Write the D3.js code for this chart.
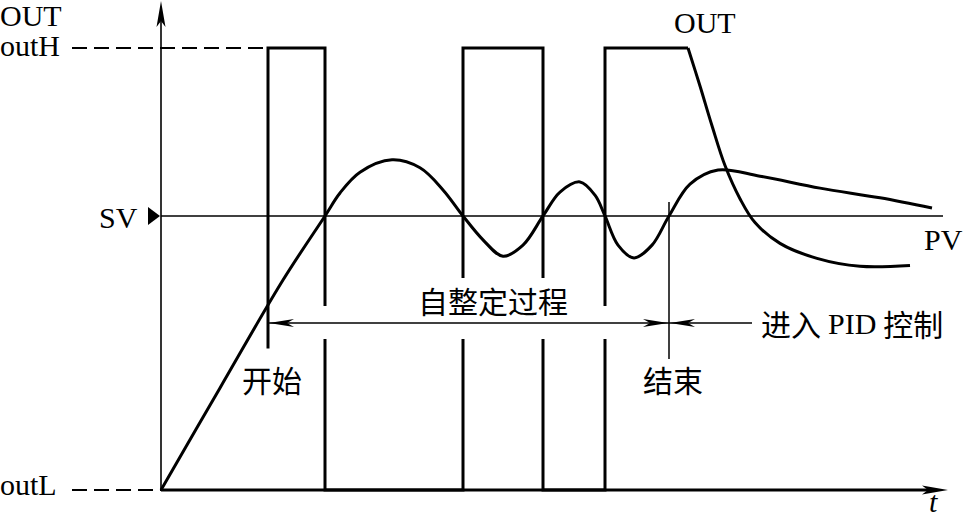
<!DOCTYPE html>
<html>
<head>
<meta charset="utf-8">
<script src="https://cdn.jsdelivr.net/npm/d3@7/dist/d3.min.js"></script>
<style>
  html, body { margin: 0; padding: 0; background: #fff; }
  svg { display: block; }
  .lat { font-family: "Liberation Serif", "DejaVu Serif", serif; font-size: 30px; fill: #000; }
  .cjk { font-family: "Noto Sans CJK SC", sans-serif; font-size: 30px; fill: #000; }
</style>
</head>
<body>
<svg id="chart" width="965" height="520"></svg>
<script>
// ---- data (time t in arbitrary units, output/PV value in % of outH) ----
const levelNames  = ["outH", "SV", "outL"];
const levelValues = [100, 62, 0];

// relay output during auto-tuning (step part)
const outStepT = [10.7, 10.7, 16.4, 16.4, 30.2, 30.2, 38.2, 38.2, 44.4, 44.4, 52.7];
const outStepV = [32,   100,  100,  0,    0,    100,  100,  0,    0,    100,  100];
// output under PID control (decay part)
const outPidT = [52.7, 53.9, 55.1, 56.4, 57.9, 59.4, 61.9, 65.6, 69.9, 74.9];
const outPidV = [100,  91.4, 82.4, 73.4, 65.9, 60.5, 55.8, 52.4, 50.6, 50.8];

// process value
const pvT = [0, 5.9, 12.2, 16.4, 17.9, 19.9, 23.1, 25.9, 28.2, 30.2, 32.2, 34.2, 36.2, 38.2,
             39.9, 41.9, 43.4, 44.4, 45.7, 47.3, 49.1, 50.8, 52.9, 55.7, 59.9, 65.9, 71.9, 77.1];
const pvV = [0, 23.1, 47.5, 62, 67.2, 71.9, 74.7, 72.9, 67.9, 62, 56.6, 52.9, 55.4, 62,
             67.4, 69.7, 66.7, 62, 55.4, 52.5, 55.4, 62, 69.2, 72.4, 71, 68.3, 66.1, 63.8];

// phase markers
const phaseNames = ["开始", "结束", "PID"];
const phaseT     = [10.7, 50.8, 59.1];

// ---- scales ----
const svg = d3.select("#chart");
const x = d3.scaleLinear().domain([0, 78.7]).range([161, 948]);
const y = d3.scaleLinear().domain([0, 100]).range([490, 48]);

const yH = y(levelValues[0]), ySV = y(levelValues[1]), yL = y(levelValues[2]);
const x0 = x(0);
const arrowY = 323;

// ---- axes ----
// y axis
svg.append("line").attr("x1", x0).attr("x2", x0).attr("y1", yL).attr("y2", 14)
  .attr("stroke", "#000").attr("stroke-width", 1.6);
svg.append("path")
  .attr("d", `M${x0},1 L${x0 + 4.5},27 L${x0},21 L${x0 - 4.5},27 Z`).attr("fill", "#000");
// x axis
const xEnd = x(78.7);
svg.append("line").attr("x1", x0).attr("x2", xEnd - 12).attr("y1", yL).attr("y2", yL)
  .attr("stroke", "#000").attr("stroke-width", 3);
svg.append("path")
  .attr("d", `M${xEnd},${yL} L${xEnd - 26},${yL - 4.5} L${xEnd - 20},${yL} L${xEnd - 26},${yL + 4.5} Z`)
  .attr("fill", "#000");

// SV line
svg.append("line").attr("x1", x0).attr("x2", 943).attr("y1", ySV).attr("y2", ySV)
  .attr("stroke", "#000").attr("stroke-width", 1.5);
svg.append("path")
  .attr("d", `M${x0 - 1},${ySV} L${x0 - 13},${ySV - 9} L${x0 - 13},${ySV + 9} Z`).attr("fill", "#000");

// dashed level lines
svg.append("line").attr("x1", 72).attr("x2", x(outStepT[0])).attr("y1", yH).attr("y2", yH)
  .attr("stroke", "#000").attr("stroke-width", 2).attr("stroke-dasharray", "15,7");
svg.append("line").attr("x1", 72).attr("x2", x0).attr("y1", yL).attr("y2", yL)
  .attr("stroke", "#000").attr("stroke-width", 2).attr("stroke-dasharray", "15,7");

// level labels
svg.append("text").attr("class", "lat").attr("x", 0).attr("y", 26).text("OUT");
svg.append("text").attr("class", "lat").attr("x", 0).attr("y", yH + 8).text(levelNames[0]);
svg.append("text").attr("class", "lat").attr("x", 99).attr("y", ySV + 12).text(levelNames[1]);
svg.append("text").attr("class", "lat").attr("x", 0).attr("y", yL + 5).text(levelNames[2]);

// ---- OUT signal ----
const stepPts = outStepT.map((t, i) => [t, outStepV[i]]);
const pidPts  = outPidT.map((t, i) => [t, outPidV[i]]);
const linLine = d3.line().x(d => x(d[0])).y(d => y(d[1]));
const crLine  = d3.line().x(d => x(d[0])).y(d => y(d[1])).curve(d3.curveCatmullRom.alpha(0.5));

svg.append("path").attr("d", linLine(stepPts)).attr("fill", "none")
  .attr("stroke", "#000").attr("stroke-width", 3).attr("stroke-linejoin", "miter");
svg.append("path").attr("d", crLine(pidPts)).attr("fill", "none")
  .attr("stroke", "#000").attr("stroke-width", 3);

// ---- PV ----
const pvPts = pvT.map((t, i) => [t, pvV[i]]);
svg.append("path").attr("d", crLine(pvPts)).attr("fill", "none")
  .attr("stroke", "#000").attr("stroke-width", 3);

// gaps in relay pulses for annotation
svg.append("rect").attr("x", x(outStepT[0]) + 12).attr("y", 306)
  .attr("width", x(phaseT[1]) - x(outStepT[0]) - 30).attr("height", 33).attr("fill", "#fff");
svg.append("rect").attr("x", 410).attr("y", 278).attr("width", 168).attr("height", 40).attr("fill", "#fff");

// ---- markers ----
const xs = x(phaseT[0]), xe = x(phaseT[1]), xp = x(phaseT[2]);
svg.append("line").attr("x1", xe).attr("x2", xe).attr("y1", 202).attr("y2", 359)
  .attr("stroke", "#000").attr("stroke-width", 1.5);

function arrowHead(tipX, dir) {
  // dir = +1 pointing right, -1 pointing left
  const L = 25, W = 4, N = 18;
  return `M${tipX},${arrowY} L${tipX - dir * L},${arrowY - W} L${tipX - dir * N},${arrowY} L${tipX - dir * L},${arrowY + W} Z`;
}
svg.append("line").attr("x1", xs).attr("x2", xe).attr("y1", arrowY).attr("y2", arrowY)
  .attr("stroke", "#000").attr("stroke-width", 1.5);
svg.append("line").attr("x1", xe).attr("x2", xp).attr("y1", arrowY).attr("y2", arrowY)
  .attr("stroke", "#000").attr("stroke-width", 1.5);
svg.append("path").attr("d", arrowHead(xs + 1, -1)).attr("fill", "#000");
svg.append("path").attr("d", arrowHead(xe - 1, 1)).attr("fill", "#000");
svg.append("path").attr("d", arrowHead(xe + 1, -1)).attr("fill", "#000");

// ---- texts ----
svg.append("text").attr("class", "cjk").attr("x", 493).attr("y", 300)
  .attr("text-anchor", "middle").attr("dominant-baseline", "central").text("自整定过程");
svg.append("text").attr("class", "cjk").attr("x", xs + 4).attr("y", 379)
  .attr("text-anchor", "middle").attr("dominant-baseline", "central").text(phaseNames[0]);
svg.append("text").attr("class", "cjk").attr("x", xe + 4).attr("y", 379)
  .attr("text-anchor", "middle").attr("dominant-baseline", "central").text(phaseNames[1]);

const pidLabel = svg.append("text").attr("x", 761).attr("y", arrowY).attr("dominant-baseline", "central");
pidLabel.append("tspan").attr("class", "cjk").text("进入");
pidLabel.append("tspan").attr("class", "lat").attr("dx", 7).text("PID");
pidLabel.append("tspan").attr("class", "cjk").attr("dx", 7).text("控制");

svg.append("text").attr("class", "lat").attr("x", 674).attr("y", 33).text("OUT");
svg.append("text").attr("class", "lat").attr("x", 924).attr("y", 250).text("PV");
svg.append("text").attr("class", "lat").attr("x", 929).attr("y", 512).attr("font-style", "italic").text("t");
</script>
</body>
</html>
